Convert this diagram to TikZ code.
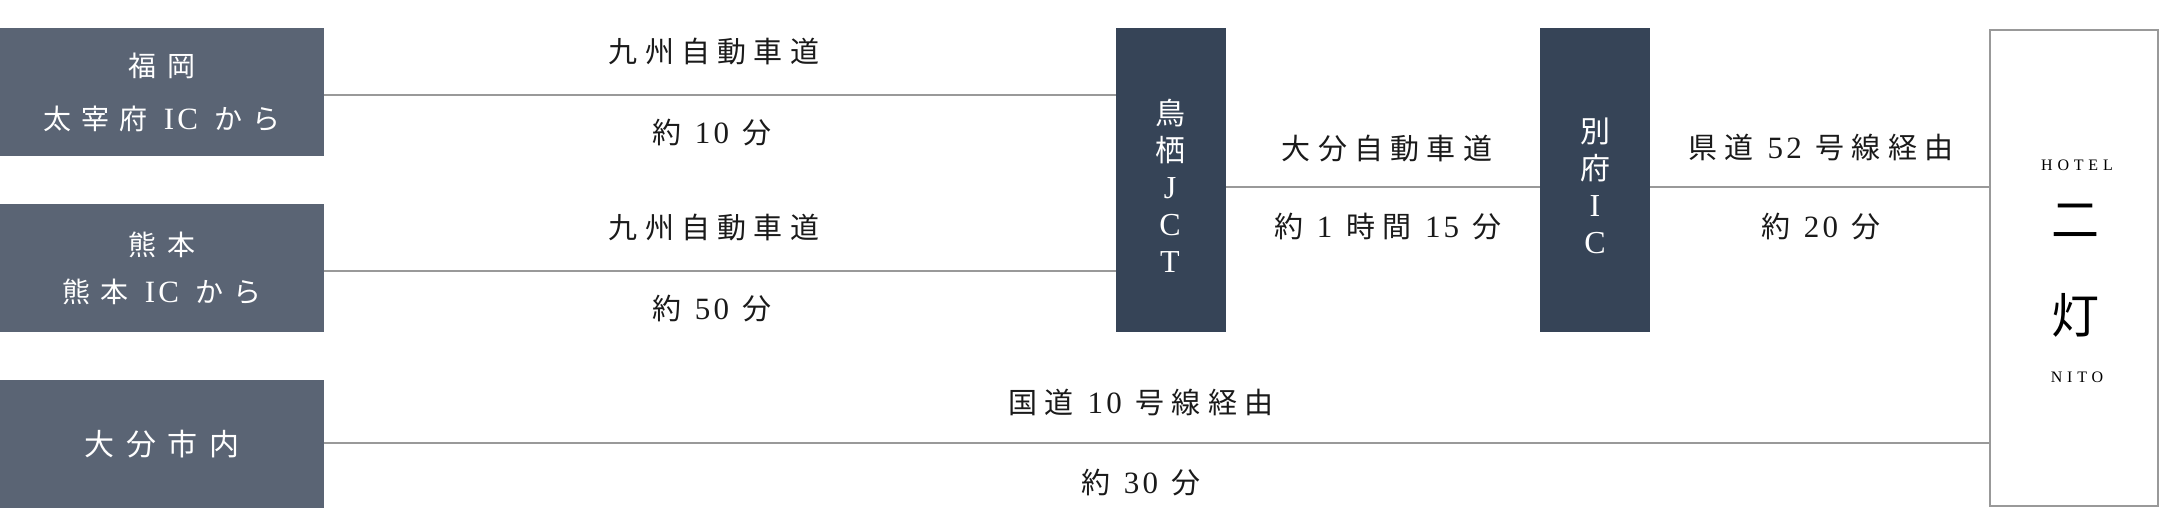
\documentclass[tikz,border=0pt]{standalone}
\usepackage{fontspec}
\setmainfont{Liberation Serif}[LetterSpace=10]
\newfontfamily\cjk{Noto Sans CJK JP}[LetterSpace=25]
\definecolor{slate}{HTML}{5A6474}
\definecolor{navy}{HTML}{364457}
\definecolor{roadgray}{HTML}{999999}
\definecolor{ink}{HTML}{1A1A1A}
\tikzset{
  origin/.style={fill=slate, text=white, minimum width=324pt, minimum height=128pt,
    inner sep=0pt, align=center, font=\fontsize{28}{50}\selectfont\cjk\addfontfeature{LetterSpace=36}},
  junction/.style={fill=navy, minimum width=110pt, minimum height=304pt, inner sep=0pt},
  vlabel/.style={text=white, inner sep=0pt, align=center, font=\fontsize{30}{37}\selectfont\cjk},
  route/.style={text=ink, inner sep=0pt, text height=24pt, text depth=3pt,
    font=\fontsize{29}{30}\selectfont\cjk},
  road/.style={draw=roadgray, line width=2pt},
}
\newcommand{\lat}[1]{{\fontsize{32}{37}\selectfont\rmfamily #1}}
\newcommand{\num}[1]{{\fontsize{31}{30}\selectfont\rmfamily #1}}
\begin{document}
\begin{tikzpicture}[x=1pt,y=-1pt]
  \useasboundingbox (0,0) rectangle (2160,508);
  % starting points
  \node[origin] (fukuoka) at (162,92) {福岡\\[3pt]太宰府 \num{IC} から};
  \node[origin] (kumamoto) at (162,268) {熊本\\[-3pt]熊本 \num{IC} から};
  \node[origin] (oita) at (162,444) {\addfontfeature{LetterSpace=38}\fontsize{30}{30}\selectfont 大分市内};
  % junctions
  \node[junction] (tosu) at (1171,180) {};
  \node[junction] (beppu) at (1595,180) {};
  \node[vlabel] (tosutext) at (1170,186) {鳥\\栖\\\lat{J}\\\lat{C}\\\lat{T}};
  \node[vlabel] (bepputext) at (1595,186) {別\\府\\\lat{I}\\\lat{C}};
  % hotel
  \node[draw=roadgray, line width=2pt, minimum width=168pt, minimum height=476pt,
    inner sep=0pt] (hotel) at (2074,268) {};
  \node[inner sep=0pt, font=\fontsize{16}{18}\selectfont\addfontfeature{LetterSpace=30}] (hoteltop) at (2077,165) {HOTEL};
  \node[inner sep=0pt, font=\fontsize{48}{50}\selectfont\cjk] (ni) at (2075,221) {二};
  \node[inner sep=0pt, font=\fontsize{48}{50}\selectfont\cjk] (to) at (2075,315) {灯};
  \node[inner sep=0pt, font=\fontsize{16}{18}\selectfont\addfontfeature{LetterSpace=30}] (hotelbot) at (2077,377) {NITO};
  % roads
  \draw[road] ([yshift=-3pt]fukuoka.east) -- ([yshift=-3pt]fukuoka.east -| tosu.west);
  \draw[road] ([yshift=-3pt]kumamoto.east) -- ([yshift=-3pt]kumamoto.east -| tosu.west);
  \draw[road] ([yshift=-7pt]tosu.east) -- ([yshift=-7pt]beppu.west);
  \draw[road] ([yshift=-7pt]beppu.east) -- ([yshift=-7pt]beppu.east -| hotel.west);
  \draw[road] ([yshift=1pt]oita.east) -- ([yshift=1pt]oita.east -| hotel.west);
  % labels
  \node[route] (road1) at (714,52) {九州自動車道};
  \node[route] (time1) at (712,133) {約 \num{10} 分};
  \node[route] (road2) at (714,228) {九州自動車道};
  \node[route] (time2) at (712,309) {約 \num{50} 分};
  \node[route] (road3) at (1387,149) {大分自動車道};
  \node[route] (time3) at (1388,227) {約 \num{1} 時間 \num{15} 分};
  \node[route] (road4) at (1821,148) {県道 \num{52} 号線経由};
  \node[route] (time4) at (1821,227) {約 \num{20} 分};
  \node[route] (road5) at (1141,403) {国道 \num{10} 号線経由};
  \node[route] (time5) at (1141,483) {約 \num{30} 分};
\end{tikzpicture}
\end{document}
